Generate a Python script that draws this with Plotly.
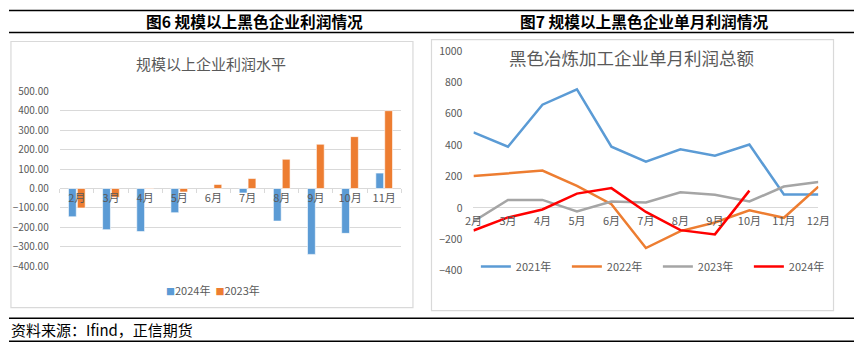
import plotly.graph_objects as go

W, H = 866, 352

# ---- data: left chart (规模以上企业利润水平) ----
months_left = ['2月', '3月', '4月', '5月', '6月', '7月', '8月', '9月', '10月', '11月']
profit_2024 = [-145, -211, -221, -124, None, -23, -167, -338, -230, 79]
profit_2023 = [-100, -45, 3, -18, 21, 51, 150, 227, 266, 399]
left_ticks = [500, 400, 300, 200, 100, 0, -100, -200, -300, -400]

# ---- data: right chart (黑色冶炼加工企业单月利润总额) ----
months_right = ['2月', '3月', '4月', '5月', '6月', '7月', '8月', '9月', '10月', '11月', '12月']
y2021 = [482, 390, 658, 756, 390, 295, 374, 333, 404, 85, 85]
y2022 = [203, 220, 238, 140, 24, -256, -148, -93, -16, -63, 136]
y2023 = [-87, 51, 51, -23, 41, 35, 99, 84, 41, 136, 165]
y2024 = [-144, -61, -10, 91, 126, -26, -142, -169, 110, None, None]
right_ticks = [1000, 800, 600, 400, 200, 0, -200, -400]


def px(x):
    return x / W


def py(y):
    return 1 - y / H


BLUE = '#5B9BD5'
ORANGE = '#ED7D31'
GRAY = '#A5A5A5'
RED = '#FF0000'
TXT = '#595959'
GRID = '#D9D9D9'
FONT = 'Noto Sans CJK SC'

fig = go.Figure()

# left bars
fig.add_trace(go.Bar(x=months_left, y=profit_2024, name='2024年', marker=dict(color=BLUE, line=dict(color='white', width=0.6)),
                     xaxis='x', yaxis='y', showlegend=False))
fig.add_trace(go.Bar(x=months_left, y=profit_2023, name='2023年', marker=dict(color=ORANGE, line=dict(color='white', width=0.6)),
                     xaxis='x', yaxis='y', showlegend=False))

# right lines
for name, vals, col in [('2021年', y2021, BLUE), ('2022年', y2022, ORANGE), ('2023年', y2023, GRAY), ('2024年', y2024, RED)]:
    fig.add_trace(go.Scatter(x=months_right, y=vals, name=name, mode='lines',
                             line=dict(color=col, width=2.5), xaxis='x2', yaxis='y2', legend='legend'))

# axis geometry
ly_top, ly_bot = py(86.7), py(270)
ry_top, ry_bot = py(45), py(274.3)
l_zero = ly_bot + (400 / 900) * (ly_top - ly_bot)
r_zero = ry_bot + (400 / 1400) * (ry_top - ry_bot)

fig.update_layout(
    width=W, height=H,
    margin=dict(l=0, r=0, t=0, b=0),
    paper_bgcolor='white', plot_bgcolor='rgba(0,0,0,0)',
    font=dict(family=FONT, color=TXT),
    barmode='group', bargap=0.48, bargroupgap=0.12,
    xaxis=dict(domain=[px(52), px(402)], anchor='free', position=l_zero, type='category',
               showgrid=False, showline=False, zeroline=False, tickangle=0,
               ticks='outside', tickson='boundaries', ticklen=4, tickcolor=GRID,
               tickfont=dict(size=11, color=TXT), ticklabelstandoff=2),
    yaxis=dict(domain=[ly_bot, ly_top], range=[-400, 500], tickvals=left_ticks, tickformat='.2f',
               showgrid=True, gridcolor=GRID, gridwidth=1, zeroline=True, zerolinecolor=GRID, zerolinewidth=1,
               showline=False, ticks='', tickfont=dict(size=10, color=TXT), ticklabelstandoff=10,
               anchor='x'),
    xaxis2=dict(domain=[px(476), px(829.5)], anchor='free', position=r_zero, type='category',
                showgrid=False, showline=False, zeroline=False, ticks='', tickangle=0,
                tickfont=dict(size=11, color=TXT), ticklabelstandoff=5),
    yaxis2=dict(domain=[ry_bot, ry_top], range=[-400, 1000], tickvals=right_ticks,
                showgrid=False, zeroline=True, zerolinecolor=GRID, zerolinewidth=1,
                showline=False, ticks='', tickfont=dict(size=10.5, color=TXT), ticklabelstandoff=10,
                anchor='x2'),
    legend=dict(orientation='h', x=px(665), y=py(270), xanchor='center', yanchor='middle',
                font=dict(size=11, color=TXT), bgcolor='rgba(0,0,0,0)', entrywidth=46,
                itemwidth=30),
    showlegend=True,
)

shapes = [
    # header / footer rules
    dict(type='line', xref='paper', yref='paper', x0=0, x1=1, y0=py(2.5), y1=py(2.5), line=dict(color='black', width=1.5)),
    dict(type='line', xref='paper', yref='paper', x0=0, x1=1, y0=py(25.5), y1=py(25.5), line=dict(color='black', width=1.5)),
    dict(type='line', xref='paper', yref='paper', x0=0, x1=1, y0=py(324), y1=py(324), line=dict(color='black', width=1.5)),
    dict(type='line', xref='paper', yref='paper', x0=0, x1=1, y0=py(348), y1=py(348), line=dict(color='black', width=1.5)),
    # chart frames
    dict(type='rect', xref='paper', yref='paper', x0=px(2), x1=px(414), y0=py(313), y1=py(35), line=dict(color=GRID, width=1.2)),
    dict(type='rect', xref='paper', yref='paper', x0=px(433), x1=px(845), y0=py(316), y1=py(33), line=dict(color=GRID, width=1.2)),
]
fig.update_layout(shapes=shapes)

legend_left = ('<span style="color:%s;font-size:9px">■</span>2024年  '
               '<span style="color:%s;font-size:9px">■</span>2023年') % (BLUE, ORANGE)

annotations = [
    dict(text='<b>图6 规模以上黑色企业利润情况</b>', x=px(252), y=py(14), xref='paper', yref='paper',
         showarrow=False, xanchor='center', yanchor='middle', font=dict(size=15.7, color='black', family=FONT)),
    dict(text='<b>图7 规模以上黑色企业单月利润情况</b>', x=px(651), y=py(14), xref='paper', yref='paper',
         showarrow=False, xanchor='center', yanchor='middle', font=dict(size=15.7, color='black', family=FONT)),
    dict(text='规模以上企业利润水平', x=px(207), y=py(58), xref='paper', yref='paper',
         showarrow=False, xanchor='center', yanchor='middle', font=dict(size=15, color=TXT, family=FONT)),
    dict(text='黑色冶炼加工企业单月利润总额', x=px(638), y=py(52), xref='paper', yref='paper',
         showarrow=False, xanchor='center', yanchor='middle', font=dict(size=17.5, color=TXT, family=FONT)),
    dict(text=legend_left, x=px(209), y=py(295), xref='paper', yref='paper',
         showarrow=False, xanchor='center', yanchor='middle', font=dict(size=11, color=TXT, family=FONT)),
    dict(text='资料来源：Ifind，正信期货', x=0, y=py(336), xref='paper', yref='paper',
         showarrow=False, xanchor='left', yanchor='middle', font=dict(size=15, color='black', family=FONT)),
]
fig.update_layout(annotations=annotations)

fig.write_html('out.html')
